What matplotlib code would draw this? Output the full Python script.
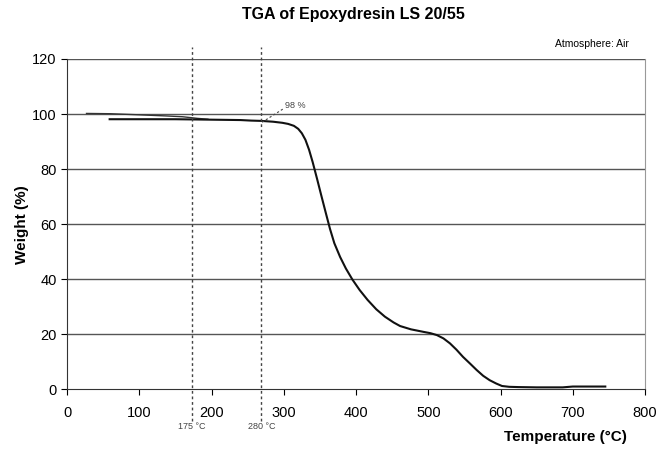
import numpy as np
import matplotlib
matplotlib.use("Agg")
import matplotlib.pyplot as plt

plt.rcParams['font.family'] = ['Liberation Sans', 'DejaVu Sans']

# first heating segment (thin line from room temperature)
temp_start = [27, 60, 100, 137, 160, 181, 195]
weight_start = [100.2, 100.1, 99.7, 99.3, 99.0, 98.4, 98.1]

# main TGA curve
temp_main = [59, 100, 150, 181, 240, 255, 268, 285, 298, 306, 314, 320, 325,
             330, 335, 340, 346, 352, 358, 364, 370, 378, 386, 395, 405, 416,
             428, 440, 452, 461, 476, 493, 503, 512, 521, 530, 539, 548, 558,
             567, 576, 585, 594, 602, 612, 625, 650, 686, 700, 745]
weight_main = [98.1, 98.1, 98.1, 98.0, 97.8, 97.6, 97.5, 97.2, 96.8, 96.4,
               95.7, 94.6, 93.0, 90.6, 87.0, 82.5, 76.5, 70.3, 64.2, 58.2,
               53.0, 48.0, 43.8, 39.8, 36.0, 32.4, 29.0, 26.3, 24.2, 22.9,
               21.7, 20.8, 20.3, 19.6, 18.4, 16.6, 14.3, 11.7, 9.2, 6.9, 4.8,
               3.2, 2.0, 1.1, 0.8, 0.7, 0.6, 0.6, 0.9, 0.9]

marker_temps = [173, 269]
marker_labels = ['175 °C', '280 °C']
onset_label = '98 %'

fig = plt.figure(figsize=(6.59, 4.49), dpi=100)
ax = fig.add_axes([0.1017, 0.1336, 0.8771, 0.735])

ax.set_xlim(0, 800)
ax.set_ylim(0, 120)
ax.set_xticks(np.arange(0, 801, 100))
ax.set_yticks(np.arange(0, 121, 20))
ax.tick_params(direction='out', length=4, labelsize=10.5, width=0.8)
ax.tick_params(axis='x', pad=8)

for y in range(20, 121, 20):
    ax.axhline(y, color='#555555', lw=1.0, zorder=1)

ax.spines['top'].set_visible(False)
ax.spines['right'].set_color('#999999')
ax.spines['left'].set_color('#333333')
ax.spines['bottom'].set_color('#333333')

ax.plot(temp_start, weight_start, color='#333333', lw=1.0, zorder=3)
ax.plot(temp_main, weight_main, color='#111111', lw=1.5, zorder=4)

# dashed marker lines reaching beyond the plot area
for t, lab in zip(marker_temps, marker_labels):
    ax.plot([t, t], [-11.5, 124.5], color='#444444', lw=1.0,
            ls=(0, (2, 2)), clip_on=False, zorder=5)
    ax.text(t, -13.8, lab, fontsize=6.5, color='#444444', ha='center',
            va='center', clip_on=False)

# onset annotation
ax.plot([270, 300], [97.0, 102.0], color='#444444', lw=0.8,
        ls=(0, (2, 2)), zorder=5)
ax.text(302, 103.0, onset_label, fontsize=6.5, color='#444444', va='center')

fig.text(0.537, 0.968, 'TGA of Epoxydresin LS 20/55', fontsize=11.5,
         fontweight='bold', ha='center', va='center')
fig.text(0.955, 0.902, 'Atmosphere: Air', fontsize=7.5, ha='right',
         va='center')
fig.text(0.033, 0.5, 'Weight (%)', fontsize=11, fontweight='bold',
         rotation=90, ha='center', va='center')
fig.text(0.858, 0.027, 'Temperature (°C)', fontsize=11, fontweight='bold',
         ha='center', va='center')

fig.savefig('out.png', dpi=100)
